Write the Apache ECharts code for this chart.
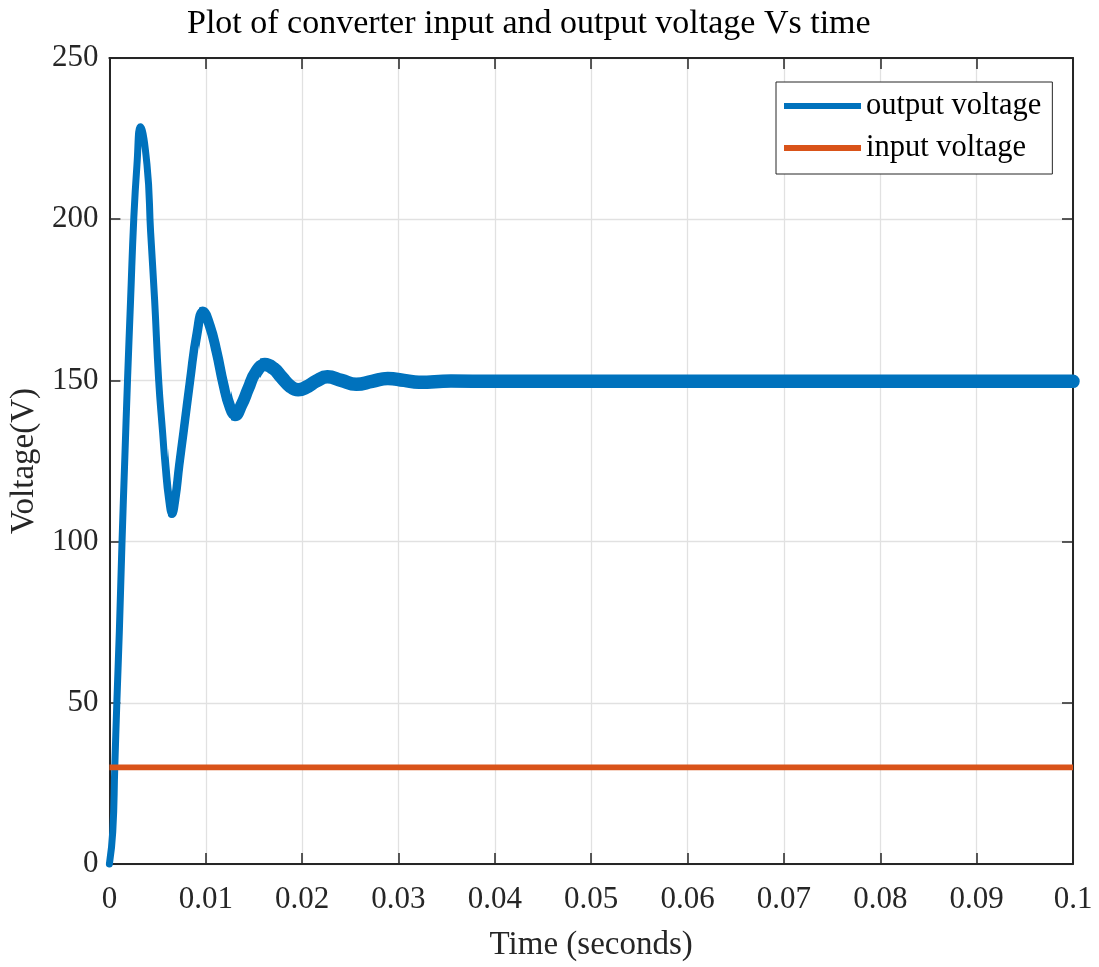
<!DOCTYPE html>
<html>
<head>
<meta charset="utf-8">
<title>converter voltage</title>
<script src="https://cdn.jsdelivr.net/npm/echarts@6/dist/echarts.min.js"></script>
<style>
  html, body { margin: 0; padding: 0; background: #fff; }
  #chart { width: 1099px; height: 967px; }
</style>
</head>
<body>
<div id="chart"></div>
<script>
// values
const timeOut = [
  0, 0.00035, 0.00056, 0.00077, 0.00103, 0.00131, 0.00159, 0.00188, 0.0022, 0.00253,
  0.00286, 0.00321, 0.0039, 0.00428, 0.00469, 0.00511, 0.00552, 0.00579, 0.00614, 0.00648,
  0.00683, 0.00724, 0.00769, 0.00838, 0.00907, 0.00969, 0.01041, 0.01114, 0.01183, 0.01248,
  0.01303, 0.01372, 0.01442, 0.01517, 0.01613, 0.01703, 0.01786, 0.01879, 0.01959, 0.02044,
  0.02148, 0.02262, 0.02406, 0.02562, 0.02727, 0.02889, 0.03058, 0.03213, 0.03544, 0.04,
  0.05, 0.06, 0.07, 0.08, 0.09, 0.1
];
const voltOut = [
  0, 10.1, 30.2, 49.9, 72.0, 100.0, 125.0, 150.1, 175.1, 200.2,
  216.9, 228.7, 216.9, 195.9, 175.1, 150.1, 133.9, 123.5, 113.2, 108.6,
  113.2, 123.5, 133.9, 150.1, 164.8, 171.4, 167.0, 158.6, 148.8, 141.6,
  139.2, 142.5, 147.5, 152.5, 154.9, 153.7, 151.0, 148.1, 147.1, 147.9,
  149.8, 151.1, 150.0, 148.8, 149.7, 150.6, 150.0, 149.4, 149.8, 149.7,
  149.7, 149.7, 149.7, 149.7, 149.7, 149.7
];
const timeIn = [0, 0.1];
const voltIn = [30, 30];

const xTicks = { min: 0, max: 0.1, step: 0.01 };
const yTicks = { min: 0, max: 250, step: 50 };

// switching ripple makes the trace look thicker after the first swings:
// the trace gets a little wider at each peak / trough
const rippleFrom = [0.00648, 0.00969, 0.01303, 0.01613];
const rippleWidth = [8.5, 10, 12, 13.5];

const serif = "'Liberation Serif', 'DejaVu Serif', serif";
const blue = "#0072BD";
const clear = "rgba(0,114,189,0)";
const orange = "#D95319";
const axisColor = "#262626";

const outPoints = timeOut.map((t, i) => [t, voltOut[i]]);
const inPoints = timeIn.map((t, i) => [t, voltIn[i]]);

const tickStyle = { show: true, inside: true, length: 11, lineStyle: { color: axisColor, width: 1.5 } };
const lineStyleAxis = { show: true, onZero: false, lineStyle: { color: axisColor, width: 2 } };

const boxAxis = (position, range) => ({
  type: "value",
  position,
  min: range.min,
  max: range.max,
  interval: range.step,
  axisLine: lineStyleAxis,
  axisTick: tickStyle,
  axisLabel: { show: false },
  splitLine: { show: false }
});

// colour that is hidden before time t and blue after it (gradient spans the path's x-range)
const fadeIn = (t) => {
  const f = (t - timeOut[0]) / (timeOut[timeOut.length - 1] - timeOut[0]);
  return {
    type: "linear", x: 0, y: 0, x2: 1, y2: 0,
    colorStops: [
      { offset: 0, color: clear },
      { offset: f, color: clear },
      { offset: f, color: blue },
      { offset: 1, color: blue }
    ]
  };
};

const outSeries = (name, width, color) => ({
  name,
  type: "line",
  data: outPoints,
  color: blue,
  smooth: 0.5,
  showSymbol: false,
  clip: false,
  z: 3,
  lineStyle: { width, color, cap: "round", join: "round" }
});

const chart = echarts.init(document.getElementById("chart"));

chart.setOption({
  animation: false,
  backgroundColor: "#fff",
  title: {
    text: "Plot of converter input and output voltage Vs time",
    left: 182,
    top: 2,
    textStyle: { fontFamily: serif, fontSize: 34, fontWeight: "normal", color: "#000" }
  },
  grid: { left: 107, right: 26, top: 58, bottom: 101 },
  legend: {
    data: ["output voltage", "input voltage"],
    orient: "vertical",
    left: 776,
    top: 82,
    padding: [6, 11, 8, 8],
    itemWidth: 77,
    itemHeight: 6,
    itemGap: 6,
    icon: "rect",
    selectedMode: false,
    backgroundColor: "#fff",
    borderColor: axisColor,
    borderWidth: 1,
    textStyle: { fontFamily: serif, fontSize: 30.5, lineHeight: 36, color: "#000" }
  },
  xAxis: [
    {
      type: "value",
      min: xTicks.min,
      max: xTicks.max,
      interval: xTicks.step,
      name: "Time (seconds)",
      nameLocation: "middle",
      nameGap: 65,
      nameTextStyle: { fontFamily: serif, fontSize: 33, color: axisColor },
      axisLine: lineStyleAxis,
      axisTick: tickStyle,
      axisLabel: {
        margin: 20,
        fontFamily: serif,
        fontSize: 31,
        color: axisColor,
        formatter: (v) => String(Math.round(v * 100) / 100)
      },
      splitLine: { show: true, lineStyle: { color: "#e1e1e1", width: 1.3 } }
    },
    boxAxis("top", xTicks)
  ],
  yAxis: [
    {
      type: "value",
      min: yTicks.min,
      max: yTicks.max,
      interval: yTicks.step,
      name: "Voltage(V)",
      nameLocation: "middle",
      nameGap: 50,
      nameTextStyle: { fontFamily: serif, fontSize: 33, color: axisColor },
      axisLine: lineStyleAxis,
      axisTick: tickStyle,
      axisLabel: { margin: 11, fontFamily: serif, fontSize: 31, color: axisColor },
      splitLine: { show: true, lineStyle: { color: "#e1e1e1", width: 1.3 } }
    },
    boxAxis("right", yTicks)
  ],
  series: [
    outSeries("output voltage", 7, blue),
    ...rippleFrom.map((t, i) => outSeries("output ripple " + (i + 1), rippleWidth[i], fadeIn(t))),
    {
      name: "input voltage",
      type: "line",
      data: inPoints,
      color: orange,
      showSymbol: false,
      z: 4,
      lineStyle: { width: 5.7, color: orange }
    }
  ]
});

window.addEventListener("resize", () => chart.resize());
</script>
</body>
</html>
